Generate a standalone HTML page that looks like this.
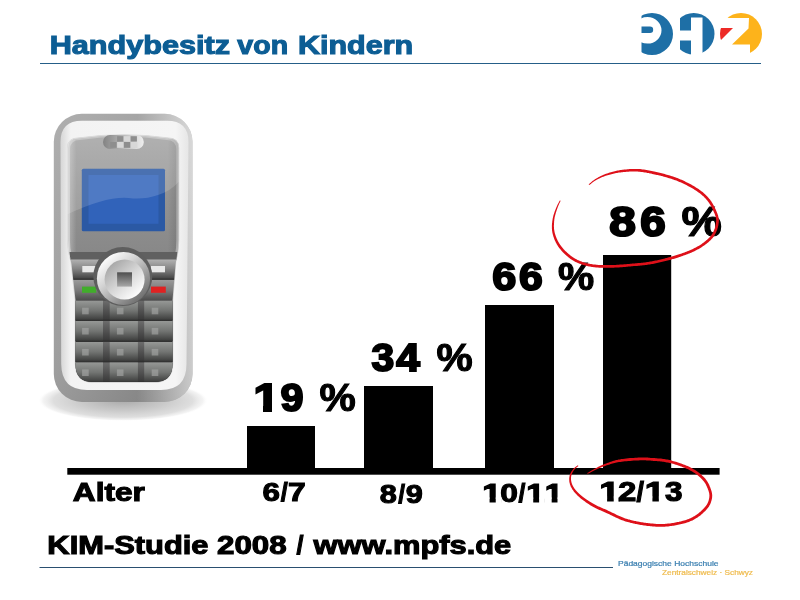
<!DOCTYPE html>
<html lang="de">
<head>
<meta charset="utf-8">
<title>Handybesitz von Kindern</title>
<style>
html,body{margin:0;padding:0;background:#fff;}
body{width:800px;height:600px;overflow:hidden;position:relative;font-family:"Liberation Sans",sans-serif;}
svg{position:absolute;left:0;top:0;display:block;}
text{font-family:"Liberation Sans",sans-serif;font-weight:bold;}
.tx text{stroke-linejoin:miter;stroke-miterlimit:3;paint-order:stroke;}
.blk{fill:#000;stroke:#000;stroke-linejoin:miter;stroke-miterlimit:3;paint-order:stroke;}
</style>
</head>
<body>
<svg id="s" width="800" height="600" viewBox="0 0 800 600">
<defs>
<!--DEFS-START-->
<radialGradient id="gShadow" cx="0.5" cy="0.5" r="0.5">
<stop offset="0" stop-color="#a0a0a0" stop-opacity="0.9"/>
<stop offset="0.5" stop-color="#bcbcbc" stop-opacity="0.8"/>
<stop offset="0.82" stop-color="#d0d0d0" stop-opacity="0.7"/>
<stop offset="0.94" stop-color="#e2e2e2" stop-opacity="0.4"/>
<stop offset="1" stop-color="#ffffff" stop-opacity="0"/>
</radialGradient>
<linearGradient id="gRing" x1="0.1" y1="0" x2="0.9" y2="1" >
<stop offset="0" stop-color="#adadad"/><stop offset="0.5" stop-color="#9e9e9e"/><stop offset="1" stop-color="#7e7e7e"/>
</linearGradient>
<linearGradient id="gRingH" x1="0" y1="0" x2="1" y2="0">
<stop offset="0" stop-color="#ffffff" stop-opacity="0"/><stop offset="0.6" stop-color="#ffffff" stop-opacity="0"/><stop offset="1" stop-color="#ffffff" stop-opacity="0.6"/>
</linearGradient>
<linearGradient id="gBody" x1="0" y1="0" x2="1" y2="0">
<stop offset="0" stop-color="#d6d6d6"/><stop offset="0.08" stop-color="#f3f3f3"/><stop offset="0.9" stop-color="#f5f5f5"/><stop offset="1" stop-color="#e6e6e6"/>
</linearGradient>
<linearGradient id="gFace" x1="0" y1="0" x2="0" y2="1">
<stop offset="0" stop-color="#a2a2a2"/><stop offset="0.25" stop-color="#929292"/><stop offset="0.5" stop-color="#878787"/><stop offset="1" stop-color="#7c7c7c"/>
</linearGradient>
<linearGradient id="gFaceH" x1="0" y1="0" x2="1" y2="0">
<stop offset="0" stop-color="#ffffff" stop-opacity="0.35"/><stop offset="0.08" stop-color="#ffffff" stop-opacity="0"/><stop offset="0.9" stop-color="#000000" stop-opacity="0"/><stop offset="1" stop-color="#000000" stop-opacity="0.12"/>
</linearGradient>
<linearGradient id="gSpk" x1="0" y1="0" x2="1" y2="0">
<stop offset="0" stop-color="#6e6e6e"/><stop offset="0.35" stop-color="#9a9a9a"/><stop offset="0.75" stop-color="#cfcfcf"/><stop offset="1" stop-color="#ececec"/>
</linearGradient>
<linearGradient id="gRowA" x1="0" y1="0" x2="0" y2="1">
<stop offset="0" stop-color="#b2b2b2"/><stop offset="0.5" stop-color="#858585"/><stop offset="1" stop-color="#484848"/>
</linearGradient>
<linearGradient id="gRowB" x1="0" y1="0" x2="0" y2="1">
<stop offset="0" stop-color="#9a9a9a"/><stop offset="0.5" stop-color="#7a7a7a"/><stop offset="1" stop-color="#4a4a4a"/>
</linearGradient>
<linearGradient id="gRingSilver" x1="0.15" y1="0.1" x2="0.85" y2="0.9">
<stop offset="0" stop-color="#ffffff"/><stop offset="0.35" stop-color="#d4d4d4"/><stop offset="0.7" stop-color="#9c9c9c"/><stop offset="1" stop-color="#6c6c6c"/>
</linearGradient>
<linearGradient id="gDisc" x1="0.15" y1="0.1" x2="0.85" y2="0.9">
<stop offset="0" stop-color="#a6a6a6"/><stop offset="0.5" stop-color="#d6d6d6"/><stop offset="1" stop-color="#ffffff"/>
</linearGradient>
<linearGradient id="gKeySq" x1="0" y1="0" x2="0" y2="1">
<stop offset="0" stop-color="#4e4e4e"/><stop offset="1" stop-color="#a8a8a8"/>
</linearGradient>
<linearGradient id="gKey" x1="0" y1="0" x2="0" y2="1">
<stop offset="0" stop-color="#969896"/><stop offset="0.5" stop-color="#727472"/><stop offset="0.9" stop-color="#444544"/><stop offset="1" stop-color="#303030"/>
</linearGradient>
<linearGradient id="gKeyGap" x1="0" y1="0" x2="0" y2="1">
<stop offset="0" stop-color="#6c6c6c"/><stop offset="0.9" stop-color="#3c3c3c"/><stop offset="1" stop-color="#2c2c2c"/>
</linearGradient>
<clipPath id="cPad"><path d="M69.500 252H177.300Q176.800 258 175.500 264L172.500 300V364Q172.500 382 154 382H93Q75.500 382 75.500 364V300L71.500 264Q70 258 69.500 252Z"/></clipPath>
<clipPath id="cFace"><path d="M78 138Q123 131.500 168.500 138Q178.800 138 178.800 148V240Q178.800 252 175.800 262L172.800 300V364Q172.800 382.500 154.500 382.500H93Q75.200 382.500 75.200 364V300L71 262Q67.500 252 67.500 240V148Q67.500 138 78 138Z"/></clipPath>
<!--DEFS-END-->
</defs>
<rect width="800" height="600" fill="#fff"/>

<!-- header -->
<!--T-HDR--><g class="tx"><text font-size="26" fill="#0c5d94" stroke="#0c5d94"><tspan x="49.68" y="54.35" stroke-width="1.1" textLength="180.31" lengthAdjust="spacingAndGlyphs">Handybesitz</tspan> <tspan x="237.31" y="54.35" stroke-width="1.1" textLength="50.81" lengthAdjust="spacingAndGlyphs">von</tspan> <tspan x="297.95" y="54.35" stroke-width="1.1" textLength="115.24" lengthAdjust="spacingAndGlyphs">Kindern</tspan></text></g><!--/T-HDR-->
<rect x="40" y="63" width="721" height="1" fill="#255e88"/>

<!-- logo -->
<g id="logo">
<clipPath id="cP"><rect x="641.500" y="10" width="40" height="50"/></clipPath>
<path clip-path="url(#cP)" fill="#1e6fa6" fill-rule="evenodd" d="M652 13a21 21 0 1 1 0 42a21 21 0 1 1 0-42Z M647.5 17a14 13.3 0 1 0 0 26.6a14 13.3 0 1 0 0-26.6Z"/>
<path fill="#1e6fa6" d="M641.500 26.600h8.500a3.200 3.200 0 0 1 0 6.400H641.500Z"/>
<clipPath id="cH"><circle cx="693.75" cy="33.75" r="20.75"/></clipPath>
<path clip-path="url(#cH)" fill="#1e6fa6" d="M680 10H716V58H702.5V17.5H691V58H680V40.5H691V30.5H680Z"/>
<clipPath id="cZ"><circle cx="741" cy="34" r="21"/></clipPath>
<path clip-path="url(#cZ)" fill="#fdb31b" d="M720 10H765V58H750V44.5H732L748.5 28.5L749 18H720Z"/>
<path clip-path="url(#cZ)" fill="#ed2a26" d="M718 28H733L721 40H718Z"/>
</g>
<!--LOGO-END-->

<!--PHONE-START-->
<g id="phone">
<ellipse cx="123" cy="400.500" rx="85" ry="20.500" fill="url(#gShadow)"/>
<rect x="53.800" y="113.800" width="138.700" height="288.200" rx="28" ry="28" fill="url(#gRing)"/>
<rect x="53.800" y="113.800" width="138.700" height="288.200" rx="28" ry="28" fill="url(#gRingH)"/>
<path d="M82 120.800H167Q188.500 120.800 188.500 142L186.500 364Q186.500 390 161 390H87Q61.500 390 61.200 364L60.500 142Q60.500 120.800 82 120.800Z" fill="url(#gBody)"/>
<path d="M78 138Q123 131.500 168.500 138Q178.800 138 178.800 148V240Q178.800 252 175.800 262L172.800 300V364Q172.800 382.500 154.500 382.500H93Q75.200 382.500 75.200 364V300L71 262Q67.500 252 67.500 240V148Q67.500 138 78 138Z" fill="#bcbcbc" stroke="#d8d8d8" stroke-width="1"/>
<path d="M78 138Q123 131.500 168.500 138Q178.800 138 178.800 148V240Q178.800 252 175.800 262L172.800 300V364Q172.800 382.500 154.500 382.500H93Q75.200 382.500 75.200 364V300L71 262Q67.500 252 67.500 240V148Q67.500 138 78 138Z" fill="url(#gFace)" transform="translate(123.150 259.250) scale(0.956 0.984) translate(-123.150 -259.250)"/>
<path d="M78 138Q123 131.500 168.500 138Q178.800 138 178.800 148V240Q178.800 252 175.800 262L172.800 300V364Q172.800 382.500 154.500 382.500H93Q75.200 382.500 75.200 364V300L71 262Q67.500 252 67.500 240V148Q67.500 138 78 138Z" fill="url(#gFaceH)"/>
<g clip-path="url(#cPad)">
<rect x="60" y="252" width="130" height="8" fill="#606060"/>
<rect x="60" y="259.500" width="130" height="18.500" fill="url(#gRowA)"/>
<rect x="60" y="278" width="130" height="2" fill="#3c3c3c"/>
<rect x="60" y="280" width="130" height="20.800" fill="url(#gRowB)"/>
<rect x="60" y="300.800" width="130" height="80" fill="#3a3a3a"/>
<rect x="70" y="300.8" width="110" height="19.8" fill="url(#gKeyGap)"/>
<rect x="75" y="300.8" width="28.0" height="19.8" fill="url(#gKey)"/>
<rect x="109.7" y="300.8" width="28.2" height="19.8" fill="url(#gKey)"/>
<rect x="144.2" y="300.8" width="28.8" height="19.8" fill="url(#gKey)"/>
<rect x="70" y="321" width="110" height="20.4" fill="url(#gKeyGap)"/>
<rect x="75" y="321" width="28.0" height="20.4" fill="url(#gKey)"/>
<rect x="109.7" y="321" width="28.2" height="20.4" fill="url(#gKey)"/>
<rect x="144.2" y="321" width="28.8" height="20.4" fill="url(#gKey)"/>
<rect x="70" y="342" width="110" height="19.9" fill="url(#gKeyGap)"/>
<rect x="75" y="342" width="28.0" height="19.9" fill="url(#gKey)"/>
<rect x="109.7" y="342" width="28.2" height="19.9" fill="url(#gKey)"/>
<rect x="144.2" y="342" width="28.8" height="19.9" fill="url(#gKey)"/>
<rect x="70" y="362.5" width="110" height="20.0" fill="url(#gKeyGap)"/>
<rect x="75" y="362.5" width="28.0" height="20.0" fill="url(#gKey)"/>
<rect x="109.7" y="362.5" width="28.2" height="20.0" fill="url(#gKey)"/>
<rect x="144.2" y="362.5" width="28.8" height="20.0" fill="url(#gKey)"/>
<rect x="82.1" y="307.7" width="6.600" height="6.600" fill="#a4a6a4" opacity="0.650"/>
<rect x="116.9" y="307.7" width="6.600" height="6.600" fill="#a4a6a4" opacity="0.650"/>
<rect x="151.7" y="307.7" width="6.600" height="6.600" fill="#a4a6a4" opacity="0.650"/>
<rect x="82.1" y="327.9" width="6.600" height="6.600" fill="#a4a6a4" opacity="0.650"/>
<rect x="116.9" y="327.9" width="6.600" height="6.600" fill="#a4a6a4" opacity="0.650"/>
<rect x="151.7" y="327.9" width="6.600" height="6.600" fill="#a4a6a4" opacity="0.650"/>
<rect x="82.1" y="348.9" width="6.600" height="6.600" fill="#a4a6a4" opacity="0.650"/>
<rect x="116.9" y="348.9" width="6.600" height="6.600" fill="#a4a6a4" opacity="0.650"/>
<rect x="151.7" y="348.9" width="6.600" height="6.600" fill="#a4a6a4" opacity="0.650"/>
<rect x="82.1" y="369.4" width="6.600" height="6.600" fill="#a4a6a4" opacity="0.650"/>
<rect x="116.9" y="369.4" width="6.600" height="6.600" fill="#a4a6a4" opacity="0.650"/>
<rect x="151.7" y="369.4" width="6.600" height="6.600" fill="#a4a6a4" opacity="0.650"/>
</g>
<rect x="103" y="135" width="40.800" height="14" rx="7" fill="url(#gSpk)"/>
<rect x="117.1" y="136.200" width="6.300" height="5.400" fill="#7b7b7b"/>
<rect x="123.7" y="136.200" width="6.300" height="5.400" fill="#d2d2d2"/>
<rect x="130.6" y="136.200" width="6.300" height="5.400" fill="#7b7b7b"/>
<rect x="110.2" y="142" width="6.300" height="5.800" fill="#7b7b7b"/>
<rect x="117.1" y="142" width="6.300" height="5.800" fill="#d2d2d2"/>
<rect x="124" y="142" width="6.300" height="5.800" fill="#7b7b7b"/>
<rect x="130.9" y="142" width="6.300" height="5.800" fill="#d2d2d2"/>
<rect x="81.800" y="168.800" width="83.200" height="62.500" rx="1.500" fill="#2b59a4"/>
<rect x="88.500" y="175" width="70" height="48.800" fill="#3163ba"/>
<g clip-path="url(#cFace)"><path d="M60 125H190V160Q182 188 158 195Q144 200 128.500 198Q104 196 60 218Z" fill="#ffffff" opacity="0.150"/></g>
<rect x="82.300" y="266" width="13.900" height="6.300" fill="#e8e8e8"/>
<rect x="151" y="266" width="14" height="6.300" fill="#e8e8e8"/>
<rect x="82" y="286.600" width="14.200" height="6.200" fill="#41ad2b"/>
<rect x="151" y="286.600" width="14.800" height="6.200" fill="#df2222"/>
<circle cx="122.800" cy="276.500" r="29.500" fill="#5e5e5e"/>
<circle cx="123.500" cy="278.500" r="26.600" fill="url(#gRingSilver)"/>
<circle cx="124.600" cy="279.600" r="20" fill="url(#gDisc)"/>
<rect x="117.100" y="272.300" width="14.900" height="14.300" fill="url(#gKeySq)"/>
</g>
<!--PHONE-END-->

<!-- chart -->
<rect x="67.300" y="468" width="652.300" height="6.700" fill="#000"/>
<rect x="247" y="426" width="68" height="45" fill="#000"/>
<rect x="364" y="386" width="69" height="85" fill="#000"/>
<rect x="485" y="305" width="69" height="166" fill="#000"/>
<rect x="603" y="255" width="68.200" height="216" fill="#000"/>

<!--T-CHART--><g class="tx">
<text font-size="38.7" fill="#000" stroke="#000"><tspan x="253.58" y="411.2" stroke-width="2.0" textLength="25.96" lengthAdjust="spacingAndGlyphs">1</tspan><tspan x="280.61" y="411.2" stroke-width="2.0" textLength="23.03" lengthAdjust="spacingAndGlyphs">9</tspan> <tspan x="319.54" y="411.2" stroke-width="1.1" textLength="36.24" lengthAdjust="spacingAndGlyphs">%</tspan></text>
<text font-size="38.7" fill="#000" stroke="#000"><tspan x="371.63" y="370.8" stroke-width="2.0" textLength="22.73" lengthAdjust="spacingAndGlyphs">3</tspan><tspan x="396.33" y="370.8" stroke-width="2.0" textLength="23.60" lengthAdjust="spacingAndGlyphs">4</tspan> <tspan x="436.42" y="370.8" stroke-width="1.1" textLength="36.20" lengthAdjust="spacingAndGlyphs">%</tspan></text>
<text font-size="38.7" fill="#000" stroke="#000"><tspan x="492.34" y="290.1" stroke-width="2.0" textLength="24.03" lengthAdjust="spacingAndGlyphs">6</tspan><tspan x="519.04" y="290.1" stroke-width="2.0" textLength="23.69" lengthAdjust="spacingAndGlyphs">6</tspan> <tspan x="557.92" y="290.1" stroke-width="1.1" textLength="36.19" lengthAdjust="spacingAndGlyphs">%</tspan></text>
<text font-size="42.2" fill="#000" stroke="#000"><tspan x="609.37" y="236.3" stroke-width="2.2" textLength="26.59" lengthAdjust="spacingAndGlyphs">8</tspan><tspan x="640.15" y="236.3" stroke-width="2.2" textLength="25.41" lengthAdjust="spacingAndGlyphs">6</tspan> <tspan x="681.43" y="236.3" stroke-width="1.2" textLength="40.31" lengthAdjust="spacingAndGlyphs">%</tspan></text>
<text font-size="26.4" fill="#000" stroke="#000"><tspan x="72.85" y="501.0" stroke-width="1.1" textLength="72.02" lengthAdjust="spacingAndGlyphs">Alter</tspan></text>
<text font-size="26.4" fill="#000" stroke="#000" stroke-width="1.1"><tspan x="262.60" y="500.7" textLength="17.42" lengthAdjust="spacingAndGlyphs">6</tspan><tspan x="280.80" y="500.7" textLength="7.02" lengthAdjust="spacingAndGlyphs">/</tspan><tspan x="287.96" y="500.7" textLength="17.72" lengthAdjust="spacingAndGlyphs">7</tspan></text>
<text font-size="26.4" fill="#000" stroke="#000" stroke-width="1.1"><tspan x="379.68" y="503.0" textLength="17.05" lengthAdjust="spacingAndGlyphs">8</tspan><tspan x="398.14" y="503.0" textLength="6.76" lengthAdjust="spacingAndGlyphs">/</tspan><tspan x="405.78" y="503.0" textLength="17.03" lengthAdjust="spacingAndGlyphs">9</tspan></text>
<text font-size="26.4" fill="#000" stroke="#000" stroke-width="1.1"><tspan x="482.32" y="502.1" textLength="19.18" lengthAdjust="spacingAndGlyphs">1</tspan><tspan x="500.20" y="502.1" textLength="17.65" lengthAdjust="spacingAndGlyphs">0</tspan><tspan x="518.45" y="502.1" textLength="6.86" lengthAdjust="spacingAndGlyphs">/</tspan><tspan x="526.26" y="502.1" textLength="18.27" lengthAdjust="spacingAndGlyphs">1</tspan><tspan x="544.87" y="502.1" textLength="18.14" lengthAdjust="spacingAndGlyphs">1</tspan></text>
<text font-size="27" fill="#000" stroke="#000" stroke-width="1.15"><tspan x="599.24" y="500.5" textLength="20.61" lengthAdjust="spacingAndGlyphs">1</tspan><tspan x="618.39" y="500.5" textLength="18.02" lengthAdjust="spacingAndGlyphs">2</tspan><tspan x="636.52" y="500.5" textLength="7.44" lengthAdjust="spacingAndGlyphs">/</tspan><tspan x="644.84" y="500.5" textLength="20.05" lengthAdjust="spacingAndGlyphs">1</tspan><tspan x="664.98" y="500.5" textLength="17.49" lengthAdjust="spacingAndGlyphs">3</tspan></text>
</g>
<g id="footmask"><rect x="253.5" y="405" width="9.5" height="8" fill="#fff"/><rect x="272.0" y="405" width="8.6" height="8" fill="#fff"/><rect x="482.89" y="497.5" width="6.68" height="7.0" fill="#fff"/><rect x="495.73" y="497.5" width="5.93" height="7.0" fill="#fff"/><rect x="526.83" y="497.5" width="6.39" height="7.0" fill="#fff"/><rect x="539.10" y="497.5" width="5.67" height="7.0" fill="#fff"/><rect x="545.31" y="497.5" width="6.36" height="7.0" fill="#fff"/><rect x="557.50" y="497.5" width="5.63" height="7.0" fill="#fff"/><rect x="599.99" y="496.5" width="7.11" height="7.0" fill="#fff"/><rect x="613.73" y="496.5" width="4.71" height="7.0" fill="#fff"/><rect x="645.47" y="496.5" width="6.93" height="7.0" fill="#fff"/><rect x="658.85" y="496.5" width="6.19" height="7.0" fill="#fff"/></g><!--/T-CHART-->

<!--RED-START-->
<g id="red" fill="#de1019" stroke="none">
<path d="M589.3 185.1 589.6 184.8 590.0 184.5 590.4 184.2 590.8 183.9 591.3 183.5 591.8 183.0 592.4 182.6 592.9 182.2 593.5 181.7 594.1 181.3 594.7 180.9 595.3 180.5 596.0 180.2 596.6 179.8 597.3 179.4 598.0 179.1 598.7 178.7 599.4 178.4 600.1 178.0 600.9 177.7 601.7 177.3 602.4 177.0 603.2 176.7 604.1 176.4 604.9 176.1 605.8 175.8 606.7 175.5 607.6 175.2 608.5 174.9 609.5 174.7 610.5 174.4 611.4 174.2 612.4 173.9 613.3 173.7 614.3 173.5 615.2 173.3 616.1 173.1 617.1 172.9 618.0 172.8 618.8 172.6 619.7 172.5 620.6 172.4 621.5 172.3 622.5 172.2 623.4 172.1 624.4 172.0 625.4 171.9 626.4 171.8 627.4 171.8 628.5 171.7 629.6 171.6 630.7 171.6 631.8 171.6 632.9 171.5 634.1 171.5 635.2 171.5 636.4 171.5 637.6 171.6 638.7 171.7 639.9 171.8 641.1 171.9 642.3 172.0 643.5 172.2 644.8 172.4 646.0 172.6 647.3 172.9 648.6 173.1 649.9 173.4 651.1 173.6 652.3 173.9 653.5 174.2 654.7 174.4 655.8 174.7 656.9 174.9 658.0 175.1 659.0 175.4 660.1 175.6 661.1 175.9 662.1 176.1 663.1 176.4 664.1 176.7 665.1 177.0 666.1 177.2 667.1 177.6 668.2 177.9 669.2 178.2 670.2 178.5 671.3 178.8 672.3 179.2 673.3 179.5 674.3 179.9 675.4 180.2 676.4 180.6 677.4 181.0 678.4 181.4 679.5 181.9 680.5 182.3 681.6 182.8 682.6 183.3 683.7 183.8 684.7 184.3 685.8 184.8 686.8 185.3 687.9 185.9 688.9 186.4 689.9 187.0 690.9 187.5 691.8 188.1 692.7 188.6 693.6 189.1 694.5 189.7 695.4 190.2 696.2 190.8 697.0 191.3 697.8 191.9 698.6 192.4 699.4 193.0 700.2 193.6 700.9 194.2 701.6 194.8 702.3 195.4 703.0 196.0 703.7 196.6 704.3 197.3 704.9 197.9 705.6 198.6 706.2 199.3 706.7 199.9 707.3 200.6 707.8 201.3 708.4 202.0 708.9 202.7 709.4 203.4 709.9 204.2 710.3 204.9 710.8 205.7 711.2 206.5 711.6 207.3 712.0 208.1 712.4 208.9 712.8 209.6 713.1 210.4 713.4 211.1 713.7 211.8 714.0 212.4 714.3 213.0 714.5 213.6 714.8 214.2 715.0 214.8 715.1 215.3 715.3 215.8 715.5 216.3 715.6 216.8 715.7 217.3 715.8 217.8 715.9 218.2 716.0 218.7 716.1 219.1 716.1 219.5 716.1 219.8 716.2 220.2 716.2 220.5 716.2 220.8 716.1 221.2 716.1 221.5 716.1 221.9 716.0 222.4 716.0 222.8 715.9 223.3 715.8 223.8 715.7 224.4 715.6 224.9 715.5 225.5 715.4 226.1 715.3 226.6 715.1 227.2 714.9 227.8 714.8 228.3 714.6 228.9 714.3 229.5 714.1 230.1 713.8 230.7 713.6 231.3 713.3 231.9 713.0 232.5 712.7 233.1 712.3 233.7 712.0 234.3 711.6 234.8 711.2 235.4 710.7 236.0 710.2 236.6 709.7 237.2 709.1 237.8 708.4 238.4 707.8 239.1 707.1 239.7 706.3 240.3 705.6 241.0 704.8 241.6 704.1 242.2 703.3 242.8 702.5 243.3 701.7 243.9 701.0 244.4 700.2 244.9 699.4 245.4 698.6 245.9 697.8 246.3 697.0 246.8 696.2 247.3 695.3 247.7 694.5 248.1 693.7 248.5 692.8 249.0 691.9 249.4 691.0 249.8 690.1 250.2 689.2 250.6 688.3 250.9 687.3 251.3 686.4 251.7 685.4 252.0 684.5 252.4 683.6 252.7 682.6 253.1 681.7 253.4 680.8 253.7 680.0 254.0 679.1 254.3 678.3 254.6 677.5 254.8 676.7 255.1 675.9 255.3 675.1 255.6 674.3 255.8 673.5 256.1 672.7 256.3 671.8 256.5 670.9 256.8 669.9 257.1 668.9 257.3 667.9 257.6 666.9 257.9 665.9 258.1 664.8 258.4 663.8 258.7 662.7 258.9 661.6 259.2 660.6 259.4 659.5 259.7 658.5 259.9 657.4 260.2 656.4 260.4 655.4 260.6 654.4 260.8 653.3 261.0 652.3 261.2 651.3 261.4 650.3 261.6 649.2 261.8 648.2 261.9 647.1 262.1 646.1 262.3 645.0 262.4 643.8 262.5 642.7 262.7 641.6 262.8 640.4 262.9 639.3 263.0 638.1 263.1 636.9 263.2 635.8 263.3 634.6 263.4 633.5 263.5 632.4 263.6 631.3 263.7 630.2 263.8 629.2 263.9 628.1 264.0 627.1 264.1 626.1 264.2 625.0 264.2 624.0 264.3 623.0 264.4 622.0 264.5 620.9 264.6 619.9 264.6 618.9 264.7 617.8 264.8 616.8 264.8 615.8 264.9 614.7 264.9 613.7 265.0 612.7 265.0 611.6 265.1 610.6 265.1 609.6 265.1 608.5 265.1 607.5 265.1 606.5 265.1 605.4 265.1 604.4 265.1 603.3 265.1 602.3 265.1 601.2 265.1 600.2 265.0 599.2 265.0 598.1 264.9 597.1 264.8 596.1 264.8 595.2 264.6 594.2 264.5 593.2 264.4 592.3 264.3 591.3 264.1 590.4 264.0 589.5 263.8 588.6 263.6 587.7 263.4 586.8 263.2 585.9 263.0 585.0 262.7 584.2 262.4 583.3 262.2 582.4 261.9 581.6 261.6 580.8 261.3 579.9 261.0 579.1 260.6 578.3 260.3 577.5 259.9 576.8 259.5 576.0 259.1 575.2 258.7 574.5 258.2 573.7 257.8 572.9 257.3 572.2 256.8 571.5 256.2 570.7 255.7 570.0 255.1 569.3 254.5 568.6 253.9 567.9 253.3 567.2 252.7 566.6 252.1 565.9 251.5 565.3 250.9 564.8 250.4 564.2 249.8 563.6 249.2 563.1 248.6 562.6 247.9 562.1 247.3 561.6 246.7 561.1 246.1 560.7 245.5 560.3 244.9 559.8 244.3 559.4 243.7 559.1 243.1 558.7 242.5 558.4 241.9 558.0 241.3 557.7 240.7 557.4 240.1 557.2 239.5 556.9 238.9 556.6 238.3 556.4 237.7 556.1 237.1 555.9 236.5 555.7 235.9 555.5 235.3 555.3 234.7 555.1 234.1 554.9 233.5 554.8 232.9 554.6 232.3 554.5 231.7 554.4 231.1 554.3 230.5 554.2 229.9 554.1 229.3 554.0 228.7 554.0 228.1 554.0 227.5 553.9 226.9 553.9 226.3 553.9 225.7 553.9 225.0 554.0 224.4 554.0 223.8 554.0 223.2 554.1 222.6 554.1 222.0 554.1 221.4 554.2 220.8 554.3 220.2 554.3 219.6 554.4 219.0 554.5 218.4 554.6 217.8 554.7 217.1 554.9 216.5 555.0 215.9 555.2 215.2 555.4 214.5 555.6 213.8 555.8 213.0 556.0 212.3 556.3 211.5 556.5 210.8 556.8 210.0 557.0 209.2 557.3 208.5 557.6 207.8 557.8 207.1 558.0 206.5 558.3 205.9 558.5 205.3 558.8 204.7 559.0 204.2 559.3 203.6 559.5 203.1 559.7 202.7 560.0 202.2 560.2 201.8 560.3 201.4 560.5 201.1 560.7 200.8 559.8 200.4 559.7 200.7 559.5 201.0 559.3 201.4 559.1 201.8 558.9 202.2 558.6 202.7 558.3 203.2 558.1 203.7 557.8 204.3 557.5 204.8 557.2 205.4 556.9 206.0 556.7 206.7 556.4 207.3 556.1 208.0 555.8 208.8 555.5 209.5 555.2 210.3 554.9 211.0 554.6 211.8 554.4 212.6 554.1 213.3 553.9 214.1 553.6 214.8 553.4 215.5 553.3 216.1 553.1 216.8 553.0 217.4 552.8 218.1 552.7 218.7 552.6 219.3 552.5 219.9 552.4 220.5 552.3 221.2 552.2 221.8 552.2 222.4 552.1 223.1 552.0 223.7 552.0 224.3 551.9 225.0 551.9 225.6 551.9 226.2 551.9 226.9 551.9 227.5 551.9 228.2 551.9 228.8 552.0 229.5 552.0 230.1 552.1 230.8 552.2 231.4 552.3 232.1 552.4 232.7 552.6 233.4 552.7 234.0 552.9 234.7 553.1 235.3 553.2 236.0 553.4 236.6 553.7 237.3 553.9 237.9 554.1 238.6 554.4 239.2 554.6 239.9 554.9 240.5 555.2 241.1 555.5 241.8 555.8 242.4 556.2 243.1 556.5 243.8 556.9 244.4 557.3 245.1 557.7 245.7 558.1 246.4 558.6 247.0 559.0 247.7 559.5 248.3 560.0 249.0 560.6 249.6 561.1 250.3 561.7 250.9 562.2 251.6 562.8 252.2 563.4 252.8 564.1 253.5 564.7 254.1 565.4 254.7 566.1 255.3 566.8 256.0 567.6 256.6 568.3 257.2 569.1 257.8 569.9 258.4 570.6 259.0 571.4 259.5 572.2 260.0 573.1 260.5 573.9 261.0 574.7 261.5 575.5 261.9 576.4 262.3 577.2 262.7 578.1 263.1 578.9 263.5 579.8 263.8 580.7 264.1 581.6 264.4 582.5 264.7 583.4 265.0 584.3 265.3 585.2 265.6 586.1 265.8 587.1 266.0 588.0 266.2 589.0 266.4 589.9 266.6 590.9 266.8 591.9 266.9 592.9 267.1 593.9 267.2 594.9 267.3 595.9 267.4 596.9 267.5 598.0 267.6 599.0 267.7 600.1 267.7 601.1 267.8 602.2 267.8 603.3 267.8 604.3 267.8 605.4 267.8 606.4 267.8 607.5 267.8 608.6 267.8 609.6 267.8 610.7 267.8 611.7 267.8 612.8 267.7 613.8 267.7 614.9 267.6 615.9 267.6 617.0 267.5 618.0 267.5 619.0 267.4 620.1 267.3 621.1 267.3 622.2 267.2 623.2 267.1 624.2 267.0 625.3 266.9 626.3 266.8 627.3 266.7 628.4 266.6 629.4 266.5 630.5 266.4 631.6 266.3 632.6 266.2 633.7 266.1 634.9 266.1 636.0 266.0 637.2 265.9 638.3 265.8 639.5 265.7 640.7 265.6 641.8 265.5 643.0 265.3 644.2 265.2 645.3 265.1 646.4 264.9 647.5 264.8 648.6 264.6 649.7 264.4 650.7 264.2 651.8 264.1 652.8 263.9 653.9 263.7 654.9 263.4 655.9 263.2 657.0 263.0 658.0 262.8 659.1 262.6 660.1 262.3 661.2 262.1 662.3 261.8 663.3 261.6 664.4 261.3 665.5 261.0 666.5 260.8 667.6 260.5 668.6 260.2 669.6 259.9 670.6 259.7 671.6 259.4 672.5 259.1 673.4 258.9 674.3 258.7 675.1 258.4 675.9 258.2 676.7 257.9 677.5 257.7 678.3 257.4 679.2 257.1 680.0 256.9 680.8 256.6 681.7 256.3 682.6 255.9 683.5 255.6 684.5 255.3 685.4 254.9 686.4 254.6 687.4 254.2 688.3 253.8 689.3 253.4 690.3 253.1 691.2 252.7 692.1 252.2 693.1 251.8 694.0 251.4 694.8 251.0 695.7 250.5 696.6 250.1 697.4 249.6 698.3 249.2 699.1 248.7 700.0 248.2 700.8 247.7 701.6 247.2 702.5 246.6 703.3 246.1 704.1 245.5 704.9 244.9 705.7 244.3 706.5 243.7 707.3 243.0 708.1 242.4 708.9 241.7 709.6 241.1 710.3 240.4 711.0 239.7 711.6 239.1 712.2 238.4 712.8 237.7 713.3 237.0 713.8 236.4 714.2 235.7 714.6 235.0 715.0 234.4 715.4 233.7 715.7 233.1 716.0 232.4 716.3 231.8 716.6 231.1 716.8 230.5 717.1 229.9 717.3 229.2 717.5 228.6 717.7 227.9 717.9 227.3 718.0 226.6 718.2 226.0 718.3 225.4 718.4 224.8 718.5 224.3 718.6 223.7 718.6 223.2 718.7 222.7 718.8 222.2 718.8 221.8 718.8 221.3 718.9 220.9 718.9 220.5 718.9 220.1 718.8 219.6 718.8 219.2 718.7 218.7 718.7 218.2 718.6 217.7 718.5 217.2 718.3 216.7 718.2 216.1 718.1 215.6 717.9 215.0 717.7 214.5 717.5 213.9 717.3 213.3 717.0 212.7 716.8 212.0 716.5 211.4 716.2 210.7 715.9 210.0 715.6 209.2 715.2 208.5 714.8 207.7 714.4 206.9 714.0 206.0 713.6 205.2 713.1 204.4 712.6 203.5 712.1 202.7 711.6 201.9 711.1 201.1 710.5 200.4 710.0 199.6 709.4 198.9 708.8 198.2 708.2 197.5 707.5 196.8 706.9 196.1 706.2 195.4 705.5 194.7 704.8 194.0 704.1 193.4 703.4 192.7 702.6 192.1 701.8 191.5 701.0 190.9 700.2 190.3 699.4 189.7 698.6 189.1 697.7 188.5 696.8 188.0 695.9 187.4 695.0 186.8 694.1 186.3 693.2 185.7 692.2 185.2 691.2 184.6 690.2 184.1 689.1 183.5 688.1 182.9 687.0 182.4 685.9 181.9 684.8 181.3 683.8 180.8 682.7 180.3 681.6 179.8 680.5 179.4 679.5 178.9 678.4 178.5 677.4 178.1 676.3 177.7 675.2 177.3 674.2 177.0 673.1 176.6 672.1 176.3 671.0 175.9 670.0 175.6 668.9 175.3 667.9 175.0 666.9 174.7 665.8 174.4 664.8 174.1 663.8 173.8 662.8 173.5 661.7 173.3 660.7 173.0 659.6 172.8 658.6 172.5 657.5 172.3 656.4 172.0 655.3 171.8 654.1 171.5 652.9 171.3 651.7 171.0 650.4 170.7 649.1 170.5 647.8 170.2 646.5 170.0 645.2 169.8 643.9 169.5 642.6 169.4 641.4 169.2 640.1 169.1 638.9 169.0 637.7 168.9 636.5 168.9 635.2 168.9 634.0 168.9 632.9 168.9 631.7 169.0 630.6 169.1 629.4 169.1 628.3 169.2 627.2 169.3 626.2 169.4 625.1 169.5 624.1 169.6 623.1 169.7 622.2 169.8 621.2 170.0 620.3 170.1 619.4 170.3 618.5 170.4 617.5 170.6 616.6 170.8 615.7 171.0 614.8 171.2 613.8 171.5 612.8 171.7 611.9 172.0 610.9 172.3 609.9 172.5 609.0 172.8 608.0 173.2 607.0 173.5 606.1 173.8 605.2 174.1 604.3 174.5 603.5 174.8 602.6 175.2 601.8 175.5 601.0 175.9 600.2 176.3 599.5 176.7 598.7 177.1 598.0 177.5 597.3 177.9 596.6 178.3 596.0 178.7 595.3 179.1 594.7 179.5 594.0 179.9 593.4 180.4 592.8 180.8 592.2 181.3 591.7 181.8 591.1 182.2 590.6 182.7 590.2 183.1 589.7 183.5 589.4 183.8 589.0 184.1 588.7 184.4Z"/>
<path d="M577.8 465.2 577.6 465.4 577.3 465.6 577.0 465.9 576.6 466.1 576.2 466.4 575.8 466.8 575.4 467.1 574.9 467.5 574.5 467.8 574.1 468.2 573.7 468.6 573.3 469.0 572.9 469.4 572.6 469.9 572.3 470.3 572.0 470.8 571.6 471.2 571.3 471.7 571.0 472.2 570.8 472.7 570.5 473.2 570.3 473.7 570.0 474.2 569.9 474.8 569.7 475.3 569.6 475.8 569.5 476.4 569.4 476.9 569.3 477.5 569.2 478.0 569.2 478.6 569.2 479.2 569.2 479.7 569.2 480.3 569.3 480.8 569.3 481.4 569.4 481.9 569.5 482.5 569.6 483.1 569.8 483.6 569.9 484.2 570.1 484.7 570.3 485.3 570.5 485.8 570.7 486.4 571.0 486.9 571.3 487.5 571.6 488.1 571.9 488.6 572.2 489.2 572.6 489.7 573.0 490.3 573.4 490.8 573.8 491.4 574.2 491.9 574.7 492.5 575.1 493.0 575.6 493.5 576.1 494.1 576.6 494.6 577.2 495.2 577.7 495.7 578.3 496.3 578.9 496.8 579.5 497.3 580.1 497.9 580.8 498.4 581.4 499.0 582.1 499.5 582.8 500.0 583.5 500.6 584.2 501.1 585.0 501.6 585.7 502.2 586.5 502.7 587.3 503.3 588.1 503.8 589.0 504.3 589.8 504.9 590.7 505.4 591.6 505.9 592.5 506.5 593.4 507.0 594.4 507.5 595.3 508.0 596.3 508.5 597.3 508.9 598.3 509.4 599.4 509.9 600.4 510.3 601.4 510.8 602.5 511.2 603.6 511.7 604.7 512.2 605.8 512.7 606.9 513.2 608.1 513.7 609.3 514.3 610.5 514.9 611.8 515.5 613.1 516.2 614.4 516.8 615.7 517.4 617.0 518.0 618.2 518.6 619.5 519.2 620.8 519.7 622.0 520.2 623.2 520.6 624.3 521.0 625.5 521.4 626.6 521.7 627.7 522.0 628.8 522.3 629.8 522.6 630.9 522.9 632.0 523.1 633.1 523.4 634.1 523.6 635.2 523.9 636.3 524.1 637.4 524.3 638.5 524.5 639.6 524.7 640.7 524.9 641.8 525.1 642.9 525.3 644.0 525.4 645.1 525.6 646.2 525.7 647.3 525.9 648.3 526.0 649.4 526.1 650.5 526.2 651.6 526.3 652.7 526.4 653.8 526.5 654.9 526.6 656.0 526.7 657.1 526.7 658.2 526.8 659.3 526.8 660.4 526.8 661.5 526.8 662.6 526.8 663.7 526.7 664.8 526.7 665.9 526.6 667.0 526.5 668.1 526.4 669.2 526.3 670.3 526.1 671.4 526.0 672.5 525.8 673.6 525.7 674.7 525.5 675.9 525.3 677.0 525.1 678.1 524.8 679.2 524.6 680.4 524.3 681.5 524.1 682.6 523.8 683.8 523.5 684.8 523.2 685.9 522.9 686.9 522.6 687.9 522.2 688.9 521.9 689.8 521.5 690.7 521.1 691.6 520.7 692.5 520.4 693.3 519.9 694.1 519.5 694.9 519.1 695.7 518.6 696.5 518.1 697.3 517.7 698.0 517.1 698.8 516.6 699.6 516.0 700.4 515.4 701.1 514.8 701.9 514.1 702.6 513.5 703.3 512.8 704.0 512.1 704.7 511.5 705.3 510.9 705.9 510.3 706.4 509.7 706.9 509.1 707.4 508.5 707.8 508.0 708.2 507.4 708.6 506.9 709.0 506.4 709.3 505.8 709.6 505.3 709.9 504.7 710.2 504.2 710.5 503.6 710.7 503.0 710.9 502.4 711.1 501.8 711.3 501.1 711.5 500.4 711.7 499.8 711.8 499.1 712.0 498.4 712.1 497.7 712.1 497.0 712.2 496.3 712.2 495.6 712.2 494.9 712.1 494.2 712.0 493.5 711.9 492.9 711.8 492.2 711.6 491.5 711.4 490.8 711.2 490.2 711.0 489.5 710.8 488.9 710.5 488.2 710.3 487.6 710.0 487.0 709.8 486.4 709.5 485.8 709.3 485.1 709.0 484.5 708.7 483.9 708.4 483.3 708.0 482.7 707.7 482.1 707.3 481.5 706.9 480.9 706.5 480.3 706.1 479.8 705.7 479.2 705.2 478.6 704.7 478.1 704.2 477.5 703.7 477.0 703.2 476.4 702.6 475.9 702.0 475.4 701.5 474.8 700.9 474.3 700.2 473.8 699.6 473.3 699.0 472.8 698.3 472.3 697.6 471.8 697.0 471.3 696.2 470.8 695.5 470.3 694.8 469.8 694.0 469.4 693.2 468.9 692.4 468.4 691.5 468.0 690.6 467.5 689.7 467.0 688.7 466.6 687.7 466.1 686.6 465.7 685.6 465.2 684.5 464.8 683.4 464.4 682.3 464.0 681.2 463.5 680.1 463.2 679.0 462.8 677.9 462.4 676.9 462.1 675.8 461.8 674.8 461.5 673.7 461.2 672.7 460.9 671.6 460.6 670.5 460.3 669.5 460.1 668.4 459.8 667.4 459.6 666.3 459.4 665.2 459.2 664.2 459.1 663.1 458.9 662.0 458.8 661.0 458.6 659.9 458.5 658.9 458.4 657.8 458.4 656.8 458.3 655.7 458.2 654.7 458.1 653.6 458.1 652.6 458.0 651.6 457.9 650.6 457.9 649.7 457.8 648.7 457.7 647.8 457.6 646.8 457.6 645.8 457.5 644.7 457.5 643.6 457.5 642.5 457.5 641.2 457.5 639.9 457.5 638.4 457.6 636.9 457.7 635.2 457.7 633.5 457.9 631.7 458.0 629.9 458.1 628.1 458.3 626.3 458.5 624.6 458.7 622.9 458.9 621.3 459.1 619.9 459.4 618.5 459.6 617.3 459.9 616.1 460.1 614.9 460.4 613.9 460.7 612.8 461.0 611.8 461.4 610.9 461.7 609.9 462.0 609.0 462.4 608.1 462.7 607.2 463.0 606.3 463.4 605.4 463.7 604.5 464.0 603.7 464.4 602.8 464.7 602.0 465.1 601.2 465.5 600.4 465.8 599.6 466.2 598.8 466.6 598.0 467.0 597.1 467.4 596.3 467.9 595.4 468.4 594.4 468.9 593.5 469.4 592.5 470.0 591.6 470.5 590.7 471.1 589.9 471.6 589.1 472.0 588.4 472.4 587.8 472.8 587.3 473.1 587.7 473.9 588.3 473.6 588.9 473.3 589.6 472.9 590.4 472.5 591.3 472.0 592.2 471.6 593.1 471.1 594.1 470.6 595.1 470.1 596.0 469.6 596.9 469.2 597.8 468.8 598.6 468.4 599.5 468.1 600.3 467.7 601.1 467.4 601.9 467.1 602.7 466.8 603.5 466.5 604.3 466.2 605.2 465.9 606.0 465.6 606.9 465.3 607.8 465.0 608.8 464.7 609.7 464.4 610.6 464.1 611.6 463.8 612.5 463.5 613.5 463.3 614.5 463.0 615.5 462.7 616.6 462.5 617.8 462.3 619.0 462.1 620.3 461.9 621.7 461.7 623.2 461.5 624.9 461.3 626.6 461.2 628.3 461.0 630.1 460.9 631.9 460.8 633.7 460.6 635.4 460.5 637.0 460.4 638.5 460.4 640.0 460.3 641.3 460.3 642.5 460.3 643.6 460.3 644.6 460.3 645.7 460.3 646.6 460.4 647.6 460.4 648.5 460.5 649.5 460.6 650.4 460.6 651.4 460.7 652.4 460.8 653.5 460.9 654.5 460.9 655.5 461.0 656.6 461.1 657.6 461.2 658.6 461.2 659.7 461.3 660.7 461.4 661.7 461.5 662.7 461.7 663.7 461.8 664.8 462.0 665.8 462.2 666.8 462.4 667.8 462.6 668.9 462.8 669.9 463.1 670.9 463.3 671.9 463.6 673.0 463.8 674.0 464.1 675.0 464.4 676.0 464.8 677.1 465.1 678.1 465.4 679.2 465.8 680.2 466.2 681.3 466.6 682.4 467.0 683.5 467.4 684.5 467.8 685.5 468.3 686.5 468.7 687.5 469.1 688.5 469.6 689.3 470.0 690.2 470.4 691.0 470.9 691.8 471.3 692.5 471.8 693.3 472.2 694.0 472.7 694.7 473.1 695.3 473.6 696.0 474.1 696.6 474.5 697.3 475.0 697.9 475.5 698.5 476.0 699.0 476.5 699.6 476.9 700.2 477.4 700.7 477.9 701.2 478.4 701.7 478.9 702.2 479.4 702.6 479.9 703.0 480.4 703.5 480.9 703.9 481.5 704.3 482.0 704.6 482.5 705.0 483.0 705.3 483.5 705.6 484.1 705.9 484.6 706.2 485.2 706.4 485.7 706.7 486.3 707.0 486.9 707.2 487.4 707.4 488.0 707.7 488.6 707.9 489.2 708.1 489.8 708.4 490.4 708.6 491.0 708.7 491.6 708.9 492.2 709.1 492.8 709.2 493.4 709.3 493.9 709.3 494.5 709.4 495.1 709.4 495.6 709.4 496.2 709.3 496.8 709.3 497.4 709.2 498.0 709.1 498.6 709.0 499.1 708.8 499.7 708.7 500.3 708.5 500.9 708.3 501.4 708.1 502.0 707.9 502.5 707.7 503.0 707.4 503.5 707.2 503.9 706.9 504.4 706.6 504.9 706.3 505.3 706.0 505.8 705.6 506.2 705.2 506.7 704.8 507.2 704.3 507.8 703.8 508.3 703.3 508.9 702.7 509.5 702.1 510.1 701.4 510.8 700.7 511.4 700.0 512.0 699.3 512.6 698.6 513.2 697.9 513.8 697.2 514.3 696.5 514.8 695.7 515.3 695.0 515.8 694.3 516.2 693.5 516.6 692.8 517.1 692.0 517.4 691.3 517.8 690.5 518.2 689.6 518.6 688.8 518.9 687.9 519.2 687.0 519.6 686.1 519.9 685.1 520.2 684.1 520.5 683.0 520.8 682.0 521.1 680.9 521.4 679.8 521.6 678.7 521.9 677.5 522.1 676.4 522.3 675.4 522.5 674.3 522.7 673.2 522.9 672.1 523.1 671.1 523.2 670.0 523.4 668.9 523.5 667.9 523.6 666.8 523.7 665.7 523.8 664.7 523.9 663.6 523.9 662.5 524.0 661.5 524.0 660.4 524.0 659.4 524.0 658.3 524.0 657.2 523.9 656.2 523.9 655.1 523.8 654.0 523.7 653.0 523.6 651.9 523.5 650.8 523.4 649.7 523.3 648.7 523.2 647.6 523.1 646.5 522.9 645.4 522.8 644.4 522.7 643.3 522.5 642.2 522.3 641.2 522.2 640.1 522.0 639.0 521.8 637.9 521.6 636.9 521.4 635.8 521.1 634.7 520.9 633.7 520.7 632.6 520.4 631.6 520.2 630.5 519.9 629.5 519.6 628.4 519.4 627.4 519.0 626.3 518.7 625.2 518.4 624.1 518.0 623.0 517.6 621.8 517.1 620.6 516.6 619.4 516.1 618.1 515.5 616.9 514.9 615.6 514.3 614.3 513.6 613.0 513.0 611.8 512.4 610.5 511.8 609.3 511.2 608.1 510.7 607.0 510.1 605.8 509.6 604.7 509.1 603.6 508.7 602.6 508.2 601.5 507.7 600.5 507.3 599.5 506.8 598.5 506.4 597.5 505.9 596.6 505.5 595.7 505.0 594.8 504.5 593.9 504.0 593.0 503.5 592.1 503.0 591.3 502.5 590.4 502.0 589.6 501.5 588.8 501.0 588.1 500.4 587.3 499.9 586.5 499.4 585.8 498.9 585.1 498.4 584.4 497.9 583.7 497.4 583.1 496.9 582.4 496.4 581.8 495.9 581.2 495.4 580.6 494.9 580.0 494.4 579.5 493.9 578.9 493.4 578.4 492.9 577.9 492.4 577.4 491.9 576.9 491.4 576.5 490.9 576.0 490.4 575.6 489.9 575.2 489.4 574.8 488.9 574.4 488.4 574.1 487.9 573.8 487.4 573.5 486.9 573.2 486.5 572.9 486.0 572.7 485.5 572.4 485.0 572.2 484.5 572.0 484.0 571.8 483.5 571.7 483.1 571.5 482.6 571.4 482.1 571.3 481.6 571.2 481.1 571.1 480.6 571.1 480.1 571.0 479.6 571.0 479.1 571.0 478.6 571.0 478.1 571.0 477.6 571.0 477.1 571.1 476.7 571.2 476.2 571.3 475.7 571.4 475.2 571.5 474.8 571.7 474.3 571.9 473.8 572.1 473.3 572.3 472.9 572.5 472.4 572.8 471.9 573.1 471.5 573.4 471.0 573.6 470.6 573.9 470.2 574.2 469.8 574.6 469.4 574.9 469.0 575.3 468.7 575.6 468.3 576.0 467.9 576.4 467.6 576.8 467.2 577.2 466.9 577.6 466.6 577.9 466.4 578.1 466.2 578.4 466.0Z"/>
</g>
<!--RED-END-->

<!-- footer -->
<!--T-FOOT--><g class="tx"><text font-size="26" fill="#000" stroke="#000"><tspan x="47.35" y="554.35" stroke-width="1.1" textLength="161.14" lengthAdjust="spacingAndGlyphs">KIM-Studie</tspan> <tspan x="217.06" y="554.35" stroke-width="1.1" textLength="69.63" lengthAdjust="spacingAndGlyphs">2008</tspan> <tspan x="296.46" y="554.35" stroke-width="1.1" textLength="7.00" lengthAdjust="spacingAndGlyphs">/</tspan> <tspan x="313.62" y="554.35" stroke-width="1.1" textLength="197.64" lengthAdjust="spacingAndGlyphs">www.mpfs.de</tspan></text></g><!--/T-FOOT-->
<rect x="39.5" y="567" width="573.5" height="1" fill="#2a4f70"/>
<text id="ph1" x="618" y="565.6" font-size="7" fill="#3a7fb0" stroke="#3a7fb0" stroke-width="0.200" style="font-weight:normal" textLength="100.5" lengthAdjust="spacingAndGlyphs">Pädagogische Hochschule</text>
<text id="ph2" x="662" y="574.6" font-size="7" fill="#efbb4c" stroke="#efbb4c" stroke-width="0.200" style="font-weight:normal" textLength="91" lengthAdjust="spacingAndGlyphs">Zentralschweiz · Schwyz</text>
</svg>
</body>
</html>
